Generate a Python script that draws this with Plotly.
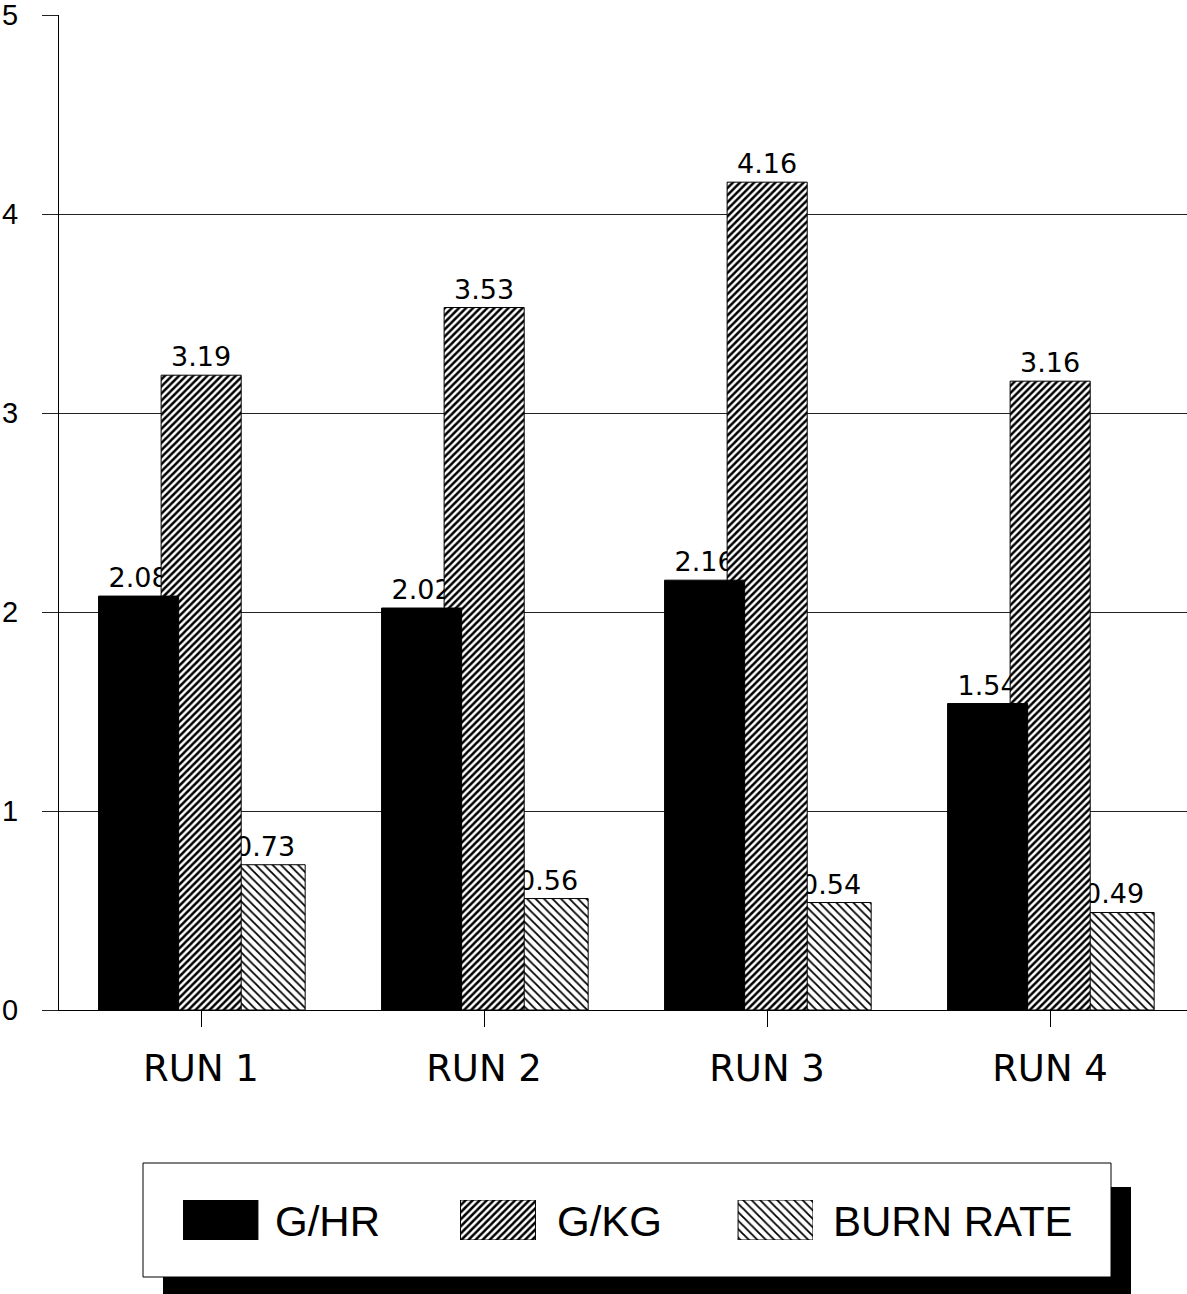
import plotly.graph_objects as go

# ---- data -------------------------------------------------------------
runs = ["RUN 1", "RUN 2", "RUN 3", "RUN 4"]
g_hr = [2.08, 2.02, 2.16, 1.54]
g_kg = [3.19, 3.53, 4.16, 3.16]
burn_rate = [0.73, 0.56, 0.54, 0.49]
y_ticks = [0, 1, 2, 3, 4, 5]
legend_names = ["G/HR", "G/KG", "BURN RATE"]

# ---- page geometry (pixels) ------------------------------------------
W, H = 1187, 1294
PLOT_L, PLOT_R, PLOT_T, PLOT_B = 59, 1187, 15, 1010


def px_x(p):
    return p / W


def px_y(p):
    return 1 - p / H


BAR_W = 0.283          # bar width in category units
OFF_HR = -0.362        # left edges of the three overlapping bars
OFF_KG = -0.141
OFF_BR = 0.085

VALUE_FONT = dict(family="DejaVu Sans", size=27, color="black")

KG_PATTERN = dict(shape="/", size=5, solidity=0.5, fgcolor="black", bgcolor="white")
BR_PATTERN = dict(shape="\\", size=6, solidity=0.3, fgcolor="black", bgcolor="white")

fig = go.Figure()

# back bar: burn rate (its label partly hidden by the next bar)
fig.add_trace(go.Bar(
    x=runs, y=burn_rate, offset=OFF_BR, width=BAR_W,
    marker=dict(color="white", line=dict(color="black", width=1), pattern=BR_PATTERN),
    text=[f"{v:.2f}" for v in burn_rate], textposition="outside",
    textfont=VALUE_FONT, constraintext="none", cliponaxis=False,
    hoverinfo="skip", showlegend=False,
))

# G/HR value labels sit behind the G/KG bars
fig.add_trace(go.Bar(
    x=runs, y=g_hr, offset=OFF_HR, width=BAR_W,
    marker=dict(color="rgba(0,0,0,0)", line=dict(width=0)),
    text=[f"{v:.2f}" for v in g_hr], textposition="outside",
    textfont=VALUE_FONT, constraintext="none", cliponaxis=False,
    hoverinfo="skip", showlegend=False,
))

# middle bar: G/KG
fig.add_trace(go.Bar(
    x=runs, y=g_kg, offset=OFF_KG, width=BAR_W,
    marker=dict(color="white", line=dict(color="black", width=1), pattern=KG_PATTERN),
    text=[f"{v:.2f}" for v in g_kg], textposition="outside",
    textfont=VALUE_FONT, constraintext="none", cliponaxis=False,
    hoverinfo="skip", showlegend=False,
))

# front bar: G/HR solid black
fig.add_trace(go.Bar(
    x=runs, y=g_hr, offset=OFF_HR, width=BAR_W,
    marker=dict(color="black", line=dict(color="black", width=1)),
    hoverinfo="skip", showlegend=False,
))

# ---- legend swatches on their own small axes -------------------------
swatch_markers = [
    dict(color="black", line=dict(color="black", width=1)),
    dict(color="white", line=dict(color="black", width=1), pattern=KG_PATTERN),
    dict(color="white", line=dict(color="black", width=1), pattern=BR_PATTERN),
]
for i, mk in enumerate(swatch_markers):
    fig.add_trace(go.Bar(
        x=[i], y=[1], width=0.27, marker=mk,
        xaxis="x2", yaxis="y2", hoverinfo="skip", showlegend=False,
    ))

# legend box with its drop shadow
shapes = [
    dict(type="rect", xref="paper", yref="paper",
         x0=px_x(163), x1=px_x(1131), y0=px_y(1294), y1=px_y(1187),
         fillcolor="black", line=dict(width=0), layer="below"),
    dict(type="rect", xref="paper", yref="paper",
         x0=px_x(143), x1=px_x(1111), y0=px_y(1277), y1=px_y(1163),
         fillcolor="white", line=dict(color="black", width=1), layer="below"),
]

annotations = []
for name, xpos in zip(legend_names, [273, 555, 831]):
    annotations.append(dict(
        text=name, xref="paper", yref="paper",
        x=px_x(xpos), y=px_y(1221), xanchor="left", yanchor="middle",
        showarrow=False,
        font=dict(family="Liberation Sans, Arial", size=42, color="black"),
    ))

fig.update_layout(
    width=W, height=H,
    margin=dict(l=0, r=0, t=0, b=0, pad=0),
    template="none",
    paper_bgcolor="white", plot_bgcolor="white",
    barmode="overlay",
    showlegend=False,
    shapes=shapes,
    annotations=annotations,
    xaxis=dict(
        domain=[px_x(PLOT_L), px_x(PLOT_R)],
        type="category", categoryorder="array", categoryarray=runs,
        range=[-0.5018, 3.484],
        showgrid=False, zeroline=False,
        showline=True, linecolor="black", linewidth=1,
        ticks="outside", ticklen=16, tickcolor="black", tickwidth=1,
        ticklabelstandoff=10,
        tickfont=dict(family="DejaVu Sans", size=37, color="black"),
        automargin=False,
    ),
    yaxis=dict(
        domain=[px_y(PLOT_B), px_y(PLOT_T)],
        range=[0, 5], tickvals=y_ticks,
        showgrid=True, gridcolor="#222", gridwidth=1,
        zeroline=False,
        showline=True, linecolor="black", linewidth=1,
        ticks="outside", ticklen=16, tickcolor="#222", tickwidth=1,
        ticklabelstandoff=18, ticklabeloverflow="allow",
        tickfont=dict(family="Liberation Sans, Arial", size=29, color="black"),
        automargin=False,
    ),
    xaxis2=dict(
        domain=[px_x(183), px_x(813)], anchor="y2",
        range=[-0.135, 2.135], visible=False, fixedrange=True,
    ),
    yaxis2=dict(
        domain=[px_y(1240), px_y(1200)], anchor="x2",
        range=[0, 1], visible=False, fixedrange=True,
    ),
)

fig.write_html("out.html")
